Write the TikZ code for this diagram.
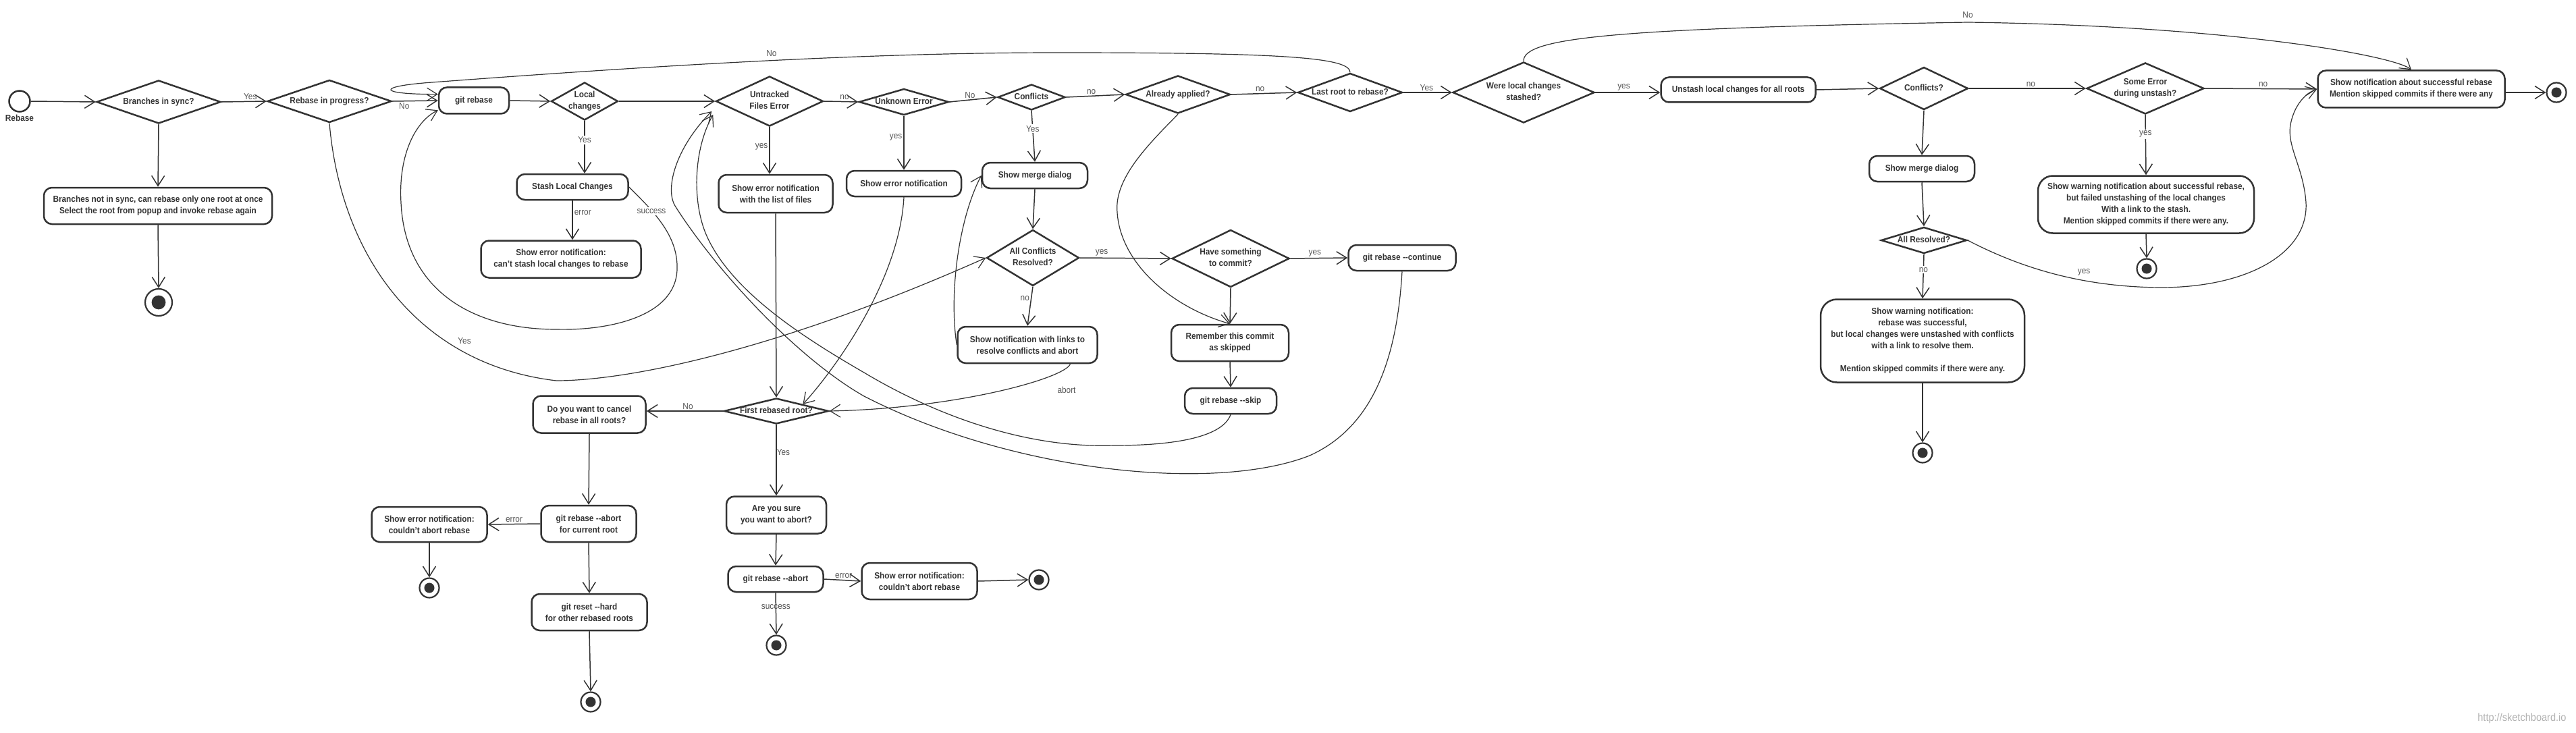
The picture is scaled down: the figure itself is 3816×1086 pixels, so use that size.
\documentclass[tikz,border=0pt]{standalone}
\usepackage{fontspec}
\setmainfont{Liberation Sans}[FakeStretch=0.91]
\usetikzlibrary{shapes.geometric,arrows.meta}
\definecolor{ink}{HTML}{333333}
\definecolor{note}{HTML}{555555}
\newcommand{\boxfont}{\fontsize{13}{17}\selectfont\bfseries}
\newcommand{\notefont}{\fontsize{13}{15}\selectfont}
\newcommand{\dt}[1]{\makebox[0pt]{\begin{tabular}{@{}c@{}}#1\end{tabular}}}
\tikzset{
  act/.style={draw=ink, line width=2.5pt, rounded corners=12pt, fill=white,
    align=center, font=\boxfont, text=ink, inner sep=2pt},
  sz/.style 2 args={minimum width=#1, minimum height=#2},
  dec/.style={diamond, draw=ink, line width=2.5pt, fill=white, aspect=0.01,
    inner sep=0pt, font=\boxfont, text=ink},
  startnode/.style={circle, draw=ink, line width=2.5pt, fill=white,
    minimum size=31pt, inner sep=0pt},
  endnode/.style={circle, draw=ink, line width=2.2pt, fill=white,
    minimum size=#1, inner sep=0pt,
    path picture={\fill[ink] (path picture bounding box.center) circle (0.26*#1);}},
  endnode/.default=29pt,
  flow/.style={draw=ink, line width=1.5pt, -{Straight Barb[length=15pt,width=19pt]}},
  sweep/.style={flow, line width=1.2pt},
  lbl/.style={font=\notefont, text=note, inner sep=2pt},
  lblw/.style={lbl, fill=white}
}
\begin{document}
\begin{tikzpicture}[x=1pt,y=-1pt]
\useasboundingbox (0,0) rectangle (3816,1086);
\node[startnode, label={[font=\boxfont, text=ink]below:Rebase}] (start) at (29,150) {};
\node[dec, sz={184pt}{64pt}] (bis) at (235,151) {\dt{Branches in sync?}};
\node[dec, sz={184pt}{63pt}] (rip) at (488,150) {\dt{Rebase in progress?}};
\node[act, sz={338pt}{54pt}] (nsync) at (234,305) {Branches not in sync, can rebase only one root at once\\Select the root from popup and invoke rebase again};
\node[endnode=40pt] (e1) at (235,448) {};
\node[act, sz={104pt}{39pt}] (grb) at (702,149) {git rebase};
\node[dec, sz={99pt}{56pt}] (local) at (866,150) {\dt{Local\\changes}};
\node[act, sz={165pt}{38pt}] (stash) at (848,277) {Stash Local Changes};
\node[act, sz={237pt}{55pt}] (stasherr) at (831,384) {Show error notification:\\can't stash local changes to rebase};
\node[dec, sz={159pt}{74pt}] (untr) at (1140,150) {\dt{Untracked\\Files Error}};
\node[act, sz={169pt}{56pt}] (untrerr) at (1149,287) {Show error notification\\with the list of files};
\node[dec, sz={133pt}{39pt}] (unk) at (1339,151) {\dt{Unknown Error}};
\node[act, sz={170pt}{38pt}] (unkerr) at (1339,272) {Show error notification};
\node[dec, sz={100pt}{38pt}] (conf) at (1528,144) {\dt{Conflicts}};
\node[act, sz={156pt}{38pt}] (merge) at (1533,260) {Show merge dialog};
\node[dec, sz={137pt}{83pt}] (acr) at (1530,382) {\dt{All Conflicts\\Resolved?}};
\node[act, sz={207pt}{54pt}] (links) at (1522,511) {Show notification with links to\\resolve conflicts and abort};
\node[dec, sz={155pt}{56pt}] (applied) at (1745,140) {\dt{Already applied?}};
\node[dec, sz={174pt}{85pt}] (commit) at (1823,383) {\dt{Have something\\to commit?}};
\node[act, sz={174pt}{54pt}] (remember) at (1822,508) {Remember this commit\\as skipped};
\node[act, sz={136pt}{38pt}] (skip) at (1823,594) {git rebase -{}-skip};
\node[act, sz={159pt}{38pt}] (cont) at (2077,382) {git rebase -{}-continue};
\node[dec, sz={155pt}{57pt}] (last) at (2000,137) {\dt{Last root to rebase?}};
\node[dec, sz={210pt}{90pt}] (stashed) at (2257,137) {\dt{Were local changes\\stashed?}};
\node[act, sz={229pt}{37pt}] (unstash) at (2575,133) {Unstash local changes for all roots};
\node[dec, sz={131pt}{63pt}] (conf2) at (2850,131) {\dt{Conflicts?}};
\node[act, sz={156pt}{38pt}] (merge2) at (2847,250) {Show merge dialog};
\node[dec, sz={127pt}{39pt}] (allres) at (2850,356) {\dt{All Resolved?}};
\node[act, sz={302pt}{123pt}, rounded corners=24pt] (warn1) at (2848,505) {Show warning notification:\\rebase was successful,\\but local changes were unstashed with conflicts\\with a link to resolve them.\\[17pt]Mention skipped commits if there were any.};
\node[endnode] (e7) at (2848,671) {};
\node[dec, sz={174pt}{76pt}] (someerr) at (3178,131) {\dt{Some Error\\during unstash?}};
\node[act, sz={320pt}{85pt}, rounded corners=22pt] (warn2) at (3179,303) {Show warning notification about successful rebase,\\but failed unstashing of the local changes\\With a link to the stash.\\Mention skipped commits if there were any.};
\node[endnode] (e6) at (3180,398) {};
\node[act, sz={277pt}{55pt}] (success) at (3572,132) {Show notification about successful rebase\\Mention skipped commits if there were any};
\node[endnode] (e8) at (3787,137) {};
\node[dec, sz={155pt}{38pt}] (frr) at (1150,609) {\dt{First rebased root?}};
\node[act, sz={167pt}{55pt}] (cancel) at (873,614) {Do you want to cancel\\rebase in all roots?};
\node[act, sz={141pt}{54pt}] (abortcur) at (872,776) {git rebase -{}-abort\\for current root};
\node[act, sz={171pt}{52pt}] (aborterr1) at (636,777) {Show error notification:\\couldn't abort rebase};
\node[endnode] (e2) at (636,871) {};
\node[act, sz={171pt}{54pt}] (reset) at (873,907) {git reset -{}-hard\\for other rebased roots};
\node[endnode] (e3) at (875,1040) {};
\node[act, sz={148pt}{55pt}] (sure) at (1150,763) {Are you sure\\you want to abort?};
\node[act, sz={141pt}{38pt}] (abortall) at (1149,858) {git rebase -{}-abort};
\node[act, sz={171pt}{54pt}] (aborterr2) at (1362,861) {Show error notification:\\couldn't abort rebase};
\node[endnode] (e5) at (1539,859) {};
\node[endnode] (e4) at (1150,956) {};
\node[font=\fontsize{16}{18}\selectfont, text=black!30, anchor=east] (mark) at (3805,1064) {http://sketchboard.io};

\draw[flow] (start.east) -- (bis.west);
\draw[flow] (bis.east) -- node[lbl, pos=.64, above] {Yes} (rip.west);
\draw[flow] (bis.south) -- (nsync.north);
\draw[flow] (nsync.south) -- (e1.north);
\draw[flow] (rip.east) -- node[lbl, pos=.26, below] {No} (grb.west);
\draw[flow] (grb.east) -- (local.west);
\draw[flow] (local.south) -- node[lblw, pos=.36] {Yes} (local.south |- stash.north);
\draw[flow] (stash.south) -- node[lbl, pos=.3, right] {error} (stash.south |- stasherr.north);
\draw[flow] (local.east) -- (untr.west);
\draw[flow] (untr.east) -- node[lbl, pos=.6, above] {no} (unk.west);
\draw[flow] (untr.south) -- node[lbl, pos=.42, left] {yes} (untr.south |- untrerr.north);
\draw[flow] (untrerr.south) -- (frr.north);
\draw[flow] (unk.east) -- node[lbl, pos=.43, above] {No} (conf.west);
\draw[flow] (unk.south) -- node[lbl, pos=.4, left] {yes} (unkerr.north);
\draw[flow] (conf.east) -- node[lbl, pos=.43, above] {no} (applied.west);
\draw[flow] (conf.south) -- node[lblw, pos=.35] {Yes} (merge.north);
\draw[flow] (applied.east) -- node[lbl, pos=.44, above] {no} (last.west);
\draw[flow] (merge.south) -- (acr.north);
\draw[flow] (acr.east) -- node[lbl, pos=.24, above] {yes} (commit.west);
\draw[flow] (acr.south) -- node[lbl, pos=.3, left] {no} (links.north);
\draw[flow] (commit.south) -- (remember.north);
\draw[flow] (commit.east) -- node[lbl, pos=.43, above] {yes} (cont.west);
\draw[flow] (remember.south) -- (skip.north);
\draw[flow] (last.east) -- node[lbl, pos=.48, above] {Yes} (stashed.west);
\draw[flow] (stashed.east) -- node[lbl, pos=.44, above] {yes} (stashed.east -| unstash.west);
\draw[flow] (unstash.east) -- (conf2.west);
\draw[flow] (conf2.east) -- node[lbl, pos=.53, above] {no} (someerr.west);
\draw[flow] (conf2.south) -- (merge2.north);
\draw[flow] (merge2.south) -- (allres.north);
\draw[flow] (allres.south) -- node[lblw, pos=.35] {no} (warn1.north);
\draw[flow] (warn1.south) -- (e7.north);
\draw[flow] (someerr.east) -- node[lbl, pos=.52, above] {no} (success.west);
\draw[flow] (someerr.south) -- node[lblw, pos=.32] {yes} (warn2.north);
\draw[flow] (warn2.south) -- (e6.north);
\draw[flow] (success.east |- e8.west) -- (e8.west);
\draw[flow] (frr.west) -- node[lbl, pos=.46, above] {No} (frr.west -| cancel.east);
\draw[flow] (frr.south) -- node[lbl, pos=.39, right, inner xsep=0pt] {Yes} (sure.north);
\draw[flow] (cancel.south) -- (abortcur.north);
\draw[flow] (abortcur.west) -- node[lbl, pos=.5, above] {error} (aborterr1.east);
\draw[flow] (aborterr1.south) -- (e2.north);
\draw[flow] (abortcur.south) -- (reset.north);
\draw[flow] (reset.south) -- (e3.north);
\draw[flow] (sure.south) -- (abortall.north);
\draw[flow] (abortall.east) -- node[lbl, pos=.53, above] {error} (aborterr2.west);
\draw[flow] (aborterr2.east) -- (e5.west);
\draw[flow] (abortall.south) -- node[lbl, pos=.34] {success} (e4.north);

\draw[sweep] (rip.south) .. controls (505,380) and (620,540) .. (824,564)
  .. controls (930,564) and (1150,520) .. (acr.west);
\node[lbl] (lyes1) at (688,505) {Yes};
\draw[sweep] (stash.east) .. controls (970,315) and (1005,350) .. (1003,400)
  .. controls (1000,470) and (900,490) .. (824,488)
  .. controls (700,488) and (600,430) .. (594,300)
  .. controls (590,230) and (615,180) .. (grb.195);
\node[lblw] (lsucc) at (965,313) {success};
\draw[sweep] (last.north) .. controls (2000,85) and (1900,78) .. (1566,78)
  .. controls (1300,78) and (1000,95) .. (640,122)
  .. controls (555,128) and (560,140) .. (grb.170);
\node[lbl] (lno1) at (1143,79) {No};
\draw[sweep] (stashed.north) .. controls (2255,55) and (2400,42) .. (2915,33)
  .. controls (3300,38) and (3545,82) .. (success.north);
\node[lbl] (lno2) at (2915,22) {No};
\draw[sweep] (allres.east) .. controls (2990,395) and (3080,425) .. (3200,426)
  .. controls (3330,426) and (3420,375) .. (3416,300)
  .. controls (3412,245) and (3385,215) .. (3394,180)
  .. controls (3400,155) and (3415,138) .. (success.west);
\node[lbl] (lyes2) at (3087,403) {yes};
\draw[sweep] (unkerr.south) .. controls (1332,420) and (1230,555) .. (frr.north east);
\draw[sweep] (applied.south) .. controls (1700,215) and (1650,265) .. (1655,315)
  .. controls (1660,390) and (1735,455) .. (remember.north);
\draw[sweep] (links.west) .. controls (1405,430) and (1422,320) .. (merge.west);
\draw[sweep] (links.-24) .. controls (1578,560) and (1420,605) .. (frr.east);
\node[lbl] (labort) at (1580,578) {abort};
\draw[sweep] (skip.south) .. controls (1812,645) and (1750,660) .. (1650,660)
  .. controls (1500,665) and (1360,600) .. (1280,552)
  .. controls (1190,500) and (1080,430) .. (1045,345)
  .. controls (1025,295) and (1028,220) .. ([xshift=-3pt,yshift=-20pt]untr.west);
\draw[sweep] (cont.south) .. controls (2070,520) and (2040,630) .. (1940,675)
  .. controls (1800,730) and (1500,700) .. (1280,587)
  .. controls (1180,530) and (1060,400) .. (1000,305)
  .. controls (985,280) and (1000,220) .. ([xshift=-5pt,yshift=-15pt]untr.west);
\end{tikzpicture}
\end{document}
